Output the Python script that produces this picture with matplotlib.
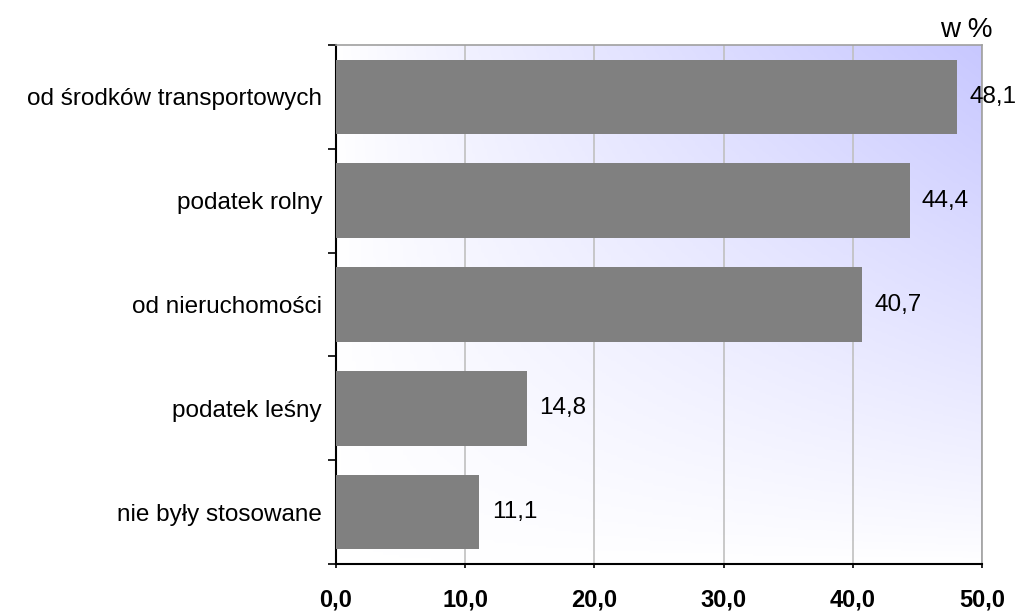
import numpy as np
import matplotlib
matplotlib.use("Agg")
import matplotlib.pyplot as plt
from matplotlib.colors import LinearSegmentedColormap

plt.rcParams['font.family'] = ['Liberation Sans', 'DejaVu Sans']

# data
categories = ["od środków transportowych", "podatek rolny", "od nieruchomości",
              "podatek leśny", "nie były stosowane"]
values = [48.1, 44.4, 40.7, 14.8, 11.1]
xticks = [0, 10, 20, 30, 40, 50]
xtick_labels = ["0,0", "10,0", "20,0", "30,0", "40,0", "50,0"]

fig = plt.figure(figsize=(10.19, 6.13), dpi=100)
ax = fig.add_axes([336/1019, 49/613, 646/1019, 519/613])

# gradient background, white bottom-left -> lavender top-right
gx, gy = np.meshgrid(np.linspace(0, 1, 200), np.linspace(0, 1, 200))
g = (gx * gy) ** 0.85
cmap = LinearSegmentedColormap.from_list("bg", ["#ffffff", "#c8c8ff"])
ax.imshow(g, cmap=cmap, extent=[0, 50, 5, 0], aspect="auto", origin="lower",
          zorder=0, vmin=0, vmax=1)

y = np.arange(len(categories)) + 0.5
ax.barh(y, values, height=0.72, color="#808080", zorder=3)

for yi, v in zip(y, values):
    ax.text(v + 0.95, yi, f"{v:.1f}".replace(".", ","), va="center", ha="left",
            fontsize=17.5, color="black", zorder=4, clip_on=False)

ax.set_xlim(0, 50)
ax.set_ylim(5, 0)
ax.set_xticks(xticks)
ax.set_xticklabels(xtick_labels, fontsize=17, fontweight="bold")
ax.set_yticks(np.arange(0, 6))
ax.set_yticklabels([])
ax.set_yticks(y, minor=True)
ax.set_yticklabels(categories, minor=True, fontsize=17.5)
ax.tick_params(axis="y", which="minor", length=0, pad=10)
ax.tick_params(axis="y", which="major", length=6, width=1.2, direction="out")
ax.tick_params(axis="x", length=3, width=1.2, direction="out", pad=15)

ax.xaxis.grid(True, color="#c0c0c0", linewidth=1.2, zorder=1)
ax.set_axisbelow(True)

for s in ["left", "bottom"]:
    ax.spines[s].set_linewidth(1.5)
    ax.spines[s].set_color("black")
for s in ["top", "right"]:
    ax.spines[s].set_linewidth(1.2)
    ax.spines[s].set_color("#a0a0a0")

fig.text(966/1019, 1 - 37/613, "w %", fontsize=20, ha="center", va="baseline")

fig.savefig("out.png", dpi=100)
